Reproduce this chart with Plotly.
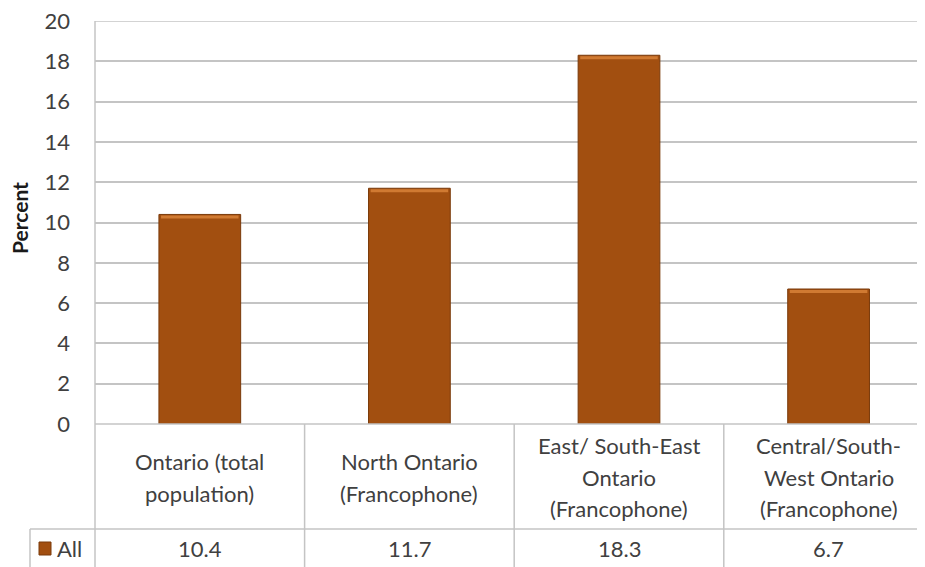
import plotly.graph_objects as go

categories = [
    "Ontario (total<br>population)",
    "North Ontario<br>(Francophone)",
    "East/ South-East<br>Ontario<br>(Francophone)",
    "Central/South-<br>West Ontario<br>(Francophone)",
]
values = [10.4, 11.7, 18.3, 6.7]
value_labels = ["10.4", "11.7", "18.3", "6.7"]
series_name = "All"
y_ticks = [0, 2, 4, 6, 8, 10, 12, 14, 16, 18, 20]

# page body has an 8px margin; lay out in screen pixels and shift
OFF = 8
W, H = 925 - 2 * OFF, 567 - OFF
L, T = 95 - OFF, 21 - OFF
B = H - (424 - OFF)
R = 0
plot_w = W - L - R
plot_h = H - T - B
unit_px = 209.6  # pixels per category slot in the reference
x_max = -0.5 + plot_w / unit_px

def py(screen_y):
    return ((H - B) - (screen_y - OFF)) / plot_h

def px(screen_x):
    return ((screen_x - OFF) - L) / plot_w

bar_color = "#A24F10"
edge_color = "#7A3A0A"
grid_color = "#C4C4C4"
text_color = "#404040"
font_family = "Lato, 'Open Sans', sans-serif"
fs = 22

xs = list(range(len(values)))

fig = go.Figure()
fig.add_trace(go.Bar(
    x=xs, y=values, width=0.39,
    marker=dict(color=bar_color, line=dict(color=edge_color, width=1)),
    showlegend=False, hoverinfo="skip",
))
# bevel highlight on bar tops
fig.add_trace(go.Bar(
    x=xs, y=[0.15] * len(values), base=[v - 0.2 for v in values], width=0.37,
    marker=dict(color="#D07A32", line=dict(width=0)),
    showlegend=False, hoverinfo="skip",
))

shapes = []
line_style = dict(color=grid_color, width=1.5)
y_row1 = py(529)
y_bot = py(567)
# top gridline (value 20)
shapes.append(dict(type="line", xref="paper", yref="y", x0=0, x1=1, y0=20, y1=20, line=line_style, layer="below"))
shapes.append(dict(type="line", xref="paper", yref="paper", x0=0, x1=1, y0=0, y1=0, line=line_style))
shapes.append(dict(type="line", xref="paper", yref="paper", x0=px(30), x1=1, y0=y_row1, y1=y_row1, line=line_style))
shapes.append(dict(type="line", xref="paper", yref="paper", x0=0, x1=0, y0=1, y1=y_bot, line=line_style))
shapes.append(dict(type="line", xref="paper", yref="paper", x0=px(30), x1=px(30), y0=y_row1, y1=y_bot, line=line_style))
for i in range(len(values) - 1):
    xv = i + 0.5
    shapes.append(dict(type="line", xref="x", yref="paper", x0=xv, x1=xv, y0=0, y1=y_bot, line=line_style))
# legend key
shapes.append(dict(type="rect", xref="paper", yref="paper", x0=px(39), x1=px(51), y0=py(555), y1=py(542),
                   fillcolor=bar_color, line=dict(color=edge_color, width=1)))

annotations = []
line_gap = 32
for i, (c, v) in enumerate(zip(categories, value_labels)):
    lines = c.split("<br>")
    n = len(lines)
    for k, ln in enumerate(lines):
        cy = 477 + (k - (n - 1) / 2) * line_gap
        annotations.append(dict(x=i, y=py(cy), xref="x", yref="paper", text=ln, showarrow=False,
                                font=dict(size=fs, color=text_color, family=font_family),
                                xanchor="center", yanchor="middle"))
    annotations.append(dict(x=i, y=py(548), xref="x", yref="paper", text=v, showarrow=False,
                            font=dict(size=fs, color=text_color, family=font_family),
                            xanchor="center", yanchor="middle"))
annotations.append(dict(x=px(55), y=py(548), xref="paper", yref="paper", text=series_name, showarrow=False,
                        xanchor="left", yanchor="middle",
                        font=dict(size=fs, color=text_color, family=font_family)))
annotations.append(dict(x=px(20), y=py(218), xref="paper", yref="paper", text="<b>Percent</b>", showarrow=False,
                        textangle=-90, font=dict(size=21, color="#1a1a1a", family=font_family),
                        xanchor="center", yanchor="middle"))

fig.update_layout(
    width=W, height=H,
    margin=dict(l=L, r=R, t=T, b=B, pad=0),
    paper_bgcolor="white", plot_bgcolor="white",
    barmode="overlay",
    xaxis=dict(range=[-0.5, x_max], showticklabels=False, showgrid=False, zeroline=False, showline=False,
               fixedrange=True),
    yaxis=dict(range=[0, 20], tickvals=y_ticks, showgrid=True, gridcolor=grid_color, gridwidth=1.5,
               zeroline=False, showline=False, ticks="", ticklabeloverflow="allow",
               tickfont=dict(size=fs, color=text_color, family=font_family), ticklabelstandoff=24),
    shapes=shapes,
    annotations=annotations,
    font=dict(family=font_family),
)

fig.write_html("out.html")
